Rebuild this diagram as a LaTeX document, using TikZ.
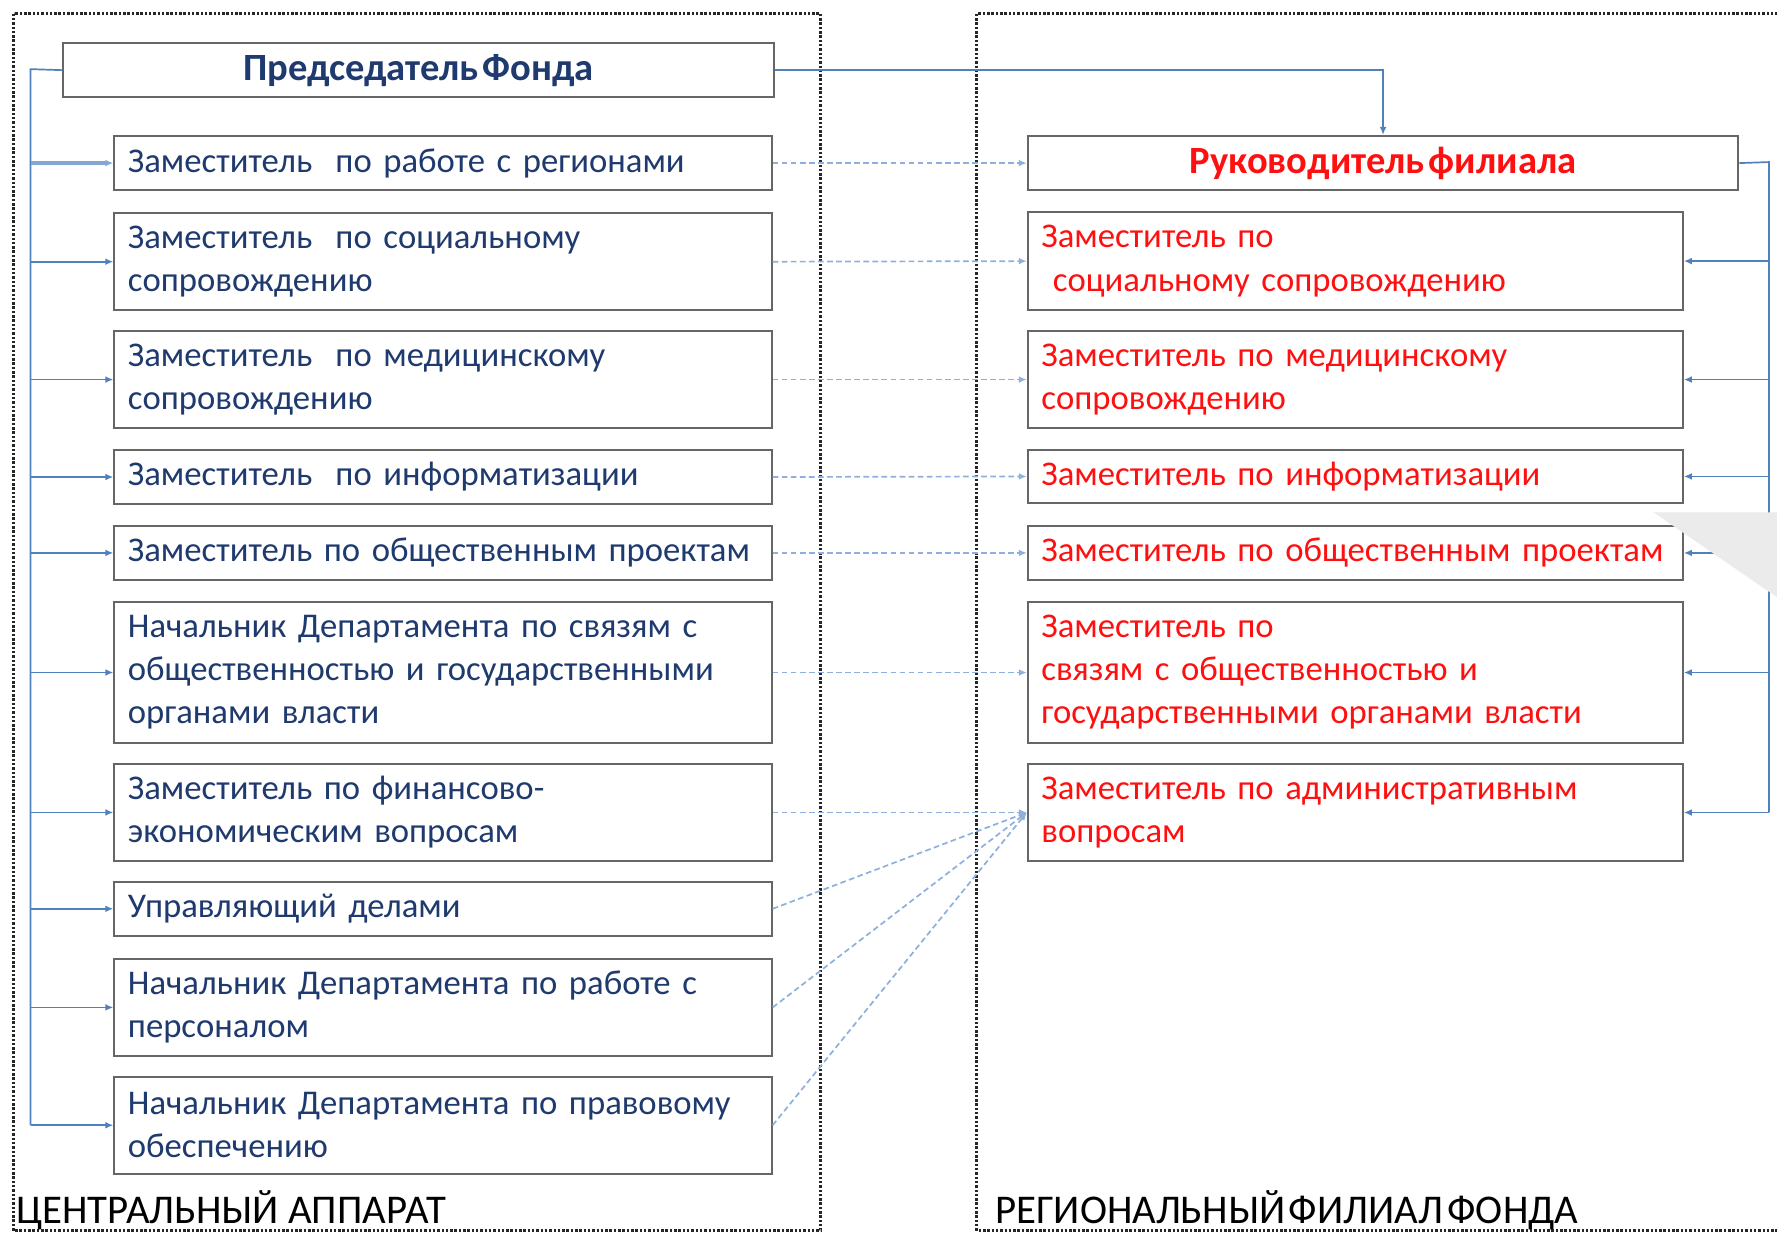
\documentclass[tikz,border=0pt]{standalone}
\usepackage{fontspec}
\setmainfont{Carlito}
\usetikzlibrary{arrows.meta}
\definecolor{navy}{HTML}{1F3A6E}
\definecolor{bred}{HTML}{FF1010}
\definecolor{lblue}{HTML}{4F81BD}
\definecolor{dblue}{HTML}{8FB0DC}
\definecolor{bgray}{HTML}{666666}
\definecolor{trigray}{HTML}{EBEBEB}
\tikzset{
  box/.style={draw=bgray, line width=1.8pt, anchor=north west, inner xsep=12pt, inner ysep=0pt,
    align=left, font=\fontsize{30.6}{38}\selectfont, text=navy},
  lbox/.style={box, text width=556pt},
  rbox/.style={box, text width=554pt, text=bred},
  bus/.style={draw=lblue, line width=1.5pt},
  busarrow/.style={bus, -{Latex[length=7pt,width=6pt]}},
  dashlink/.style={draw=dblue, line width=1.5pt, dash pattern=on 5pt off 3pt, -{Latex[length=7pt,width=6pt]}},
  frame/.style={draw=black!85, line width=2.8pt, dash pattern=on 2.2pt off 1.6pt},
  title/.style={font=\fontsize{34}{34}\selectfont\bfseries, anchor=north west, draw=bgray, line width=1.8pt, minimum height=48pt, minimum width=627pt, inner sep=0pt},
  bottomlabel/.style={font=\fontsize{36}{36}\selectfont, text=black, anchor=base west, inner sep=0pt}
}
\begin{document}
\begin{tikzpicture}[x=1pt,y=-1pt]
\useasboundingbox (0,0) rectangle (1568,1088);
\fill[white] (0,0) rectangle (1568,1088);

% frames
\draw[frame] (12,12) rectangle (724,1086);
\draw[frame] (1580,12) -- (862,12) -- (862,1086) -- (1580,1086);

% left column
\node[title, text=navy] (chair) at (55,37) {Председатель\hspace{4pt}Фонда};
\node[lbox, minimum height=48pt] (L1) at (100,119) {Заместитель\ \ по работе с регионами};
\node[lbox, minimum height=86pt] (L2) at (100,187) {Заместитель\ \ по социальному\\сопровождению};
\node[lbox, minimum height=86pt] (L3) at (100,291) {Заместитель\ \ по медицинскому\\сопровождению};
\node[lbox, minimum height=48pt] (L4) at (100,396) {Заместитель\ \ по информатизации};
\node[lbox, minimum height=48pt] (L5) at (100,463) {Заместитель по общественным проектам};
\node[lbox, minimum height=125pt] (L6) at (100,530) {Начальник Департамента по связям с\\общественностью и государственными\\органами власти};
\node[lbox, minimum height=86pt] (L7) at (100,673) {Заместитель по финансово-\\экономическим вопросам};
\node[lbox, minimum height=48pt] (L8) at (100,777) {Управляющий делами};
\node[lbox, minimum height=86pt] (L9) at (100,845) {Начальник Департамента по работе с\\персоналом};
\node[lbox, minimum height=86pt] (L10) at (100,949) {Начальник Департамента по правовому\\обеспечению};

% right column
\node[title, text=bred] (boss) at (906,119) {Руководитель\hspace{4pt}филиала};
\node[rbox, minimum height=87pt] (R1) at (906,186) {Заместитель по\\\ социальному сопровождению};
\node[rbox, minimum height=86pt] (R2) at (906,291) {Заместитель по медицинскому\\сопровождению};
\node[rbox, minimum height=47pt] (R3) at (906,396) {Заместитель по информатизации};
\node[rbox, minimum height=48pt] (R4) at (906,463) {Заместитель по общественным проектам};
\node[rbox, minimum height=125pt] (R5) at (906,530) {Заместитель по\\связям с общественностью и\\государственными органами власти};
\node[rbox, minimum height=86pt] (R6) at (906,673) {Заместитель по административным\\вопросам};

% left bus
\coordinate (lb) at (27,61);
\draw[bus] (chair.west) -- (lb) -- (lb |- L10.west);
\draw[busarrow, line width=3pt, draw=lblue!70] (lb |- L1.west) -- (L1.west);
\foreach \n in {L2,L3,L4,L5,L6,L7,L8,L9,L10}
  \draw[busarrow] (lb |- \n.west) -- (\n.west);

% chair to boss
\draw[busarrow] (chair.east) -| (boss.north);

% right bus
\coordinate (rb) at (1561,143);
\draw[bus] (boss.east) -- (rb) -- (rb |- R6.east);
\foreach \n in {R1,R2,R3,R4,R5,R6}
  \draw[busarrow] (rb |- \n.east) -- (\n.east);

% dashed links
\draw[dashlink] (L1.east) -- (boss.west);
\draw[dashlink] (L2.east) -- (R1.west);
\draw[dashlink] (L3.east) -- (R2.west);
\draw[dashlink] (L4.east) -- (R3.west);
\draw[dashlink] (L5.east) -- (R4.west);
\draw[dashlink] (L6.east) -- (R5.west);
\draw[dashlink] (L7.east) -- (R6.west);
\draw[dashlink] (L8.east) -- (R6.west);
\draw[dashlink] (L9.east) -- (R6.west);
\draw[dashlink] (L10.east) -- (R6.west);

% gray triangle
\fill[trigray] (1459,452) -- (1568,452) -- (1568,527) -- cycle;

% bottom labels
\node[bottomlabel] (cap1) at (14,1080) {ЦЕНТРАЛЬНЫЙ АППАРАТ};
\node[bottomlabel] (cap2) at (878,1080) {РЕГИОНАЛЬНЫЙ\hspace{3pt}ФИЛИАЛ\hspace{4pt}ФОНДА};
\end{tikzpicture}
\end{document}
